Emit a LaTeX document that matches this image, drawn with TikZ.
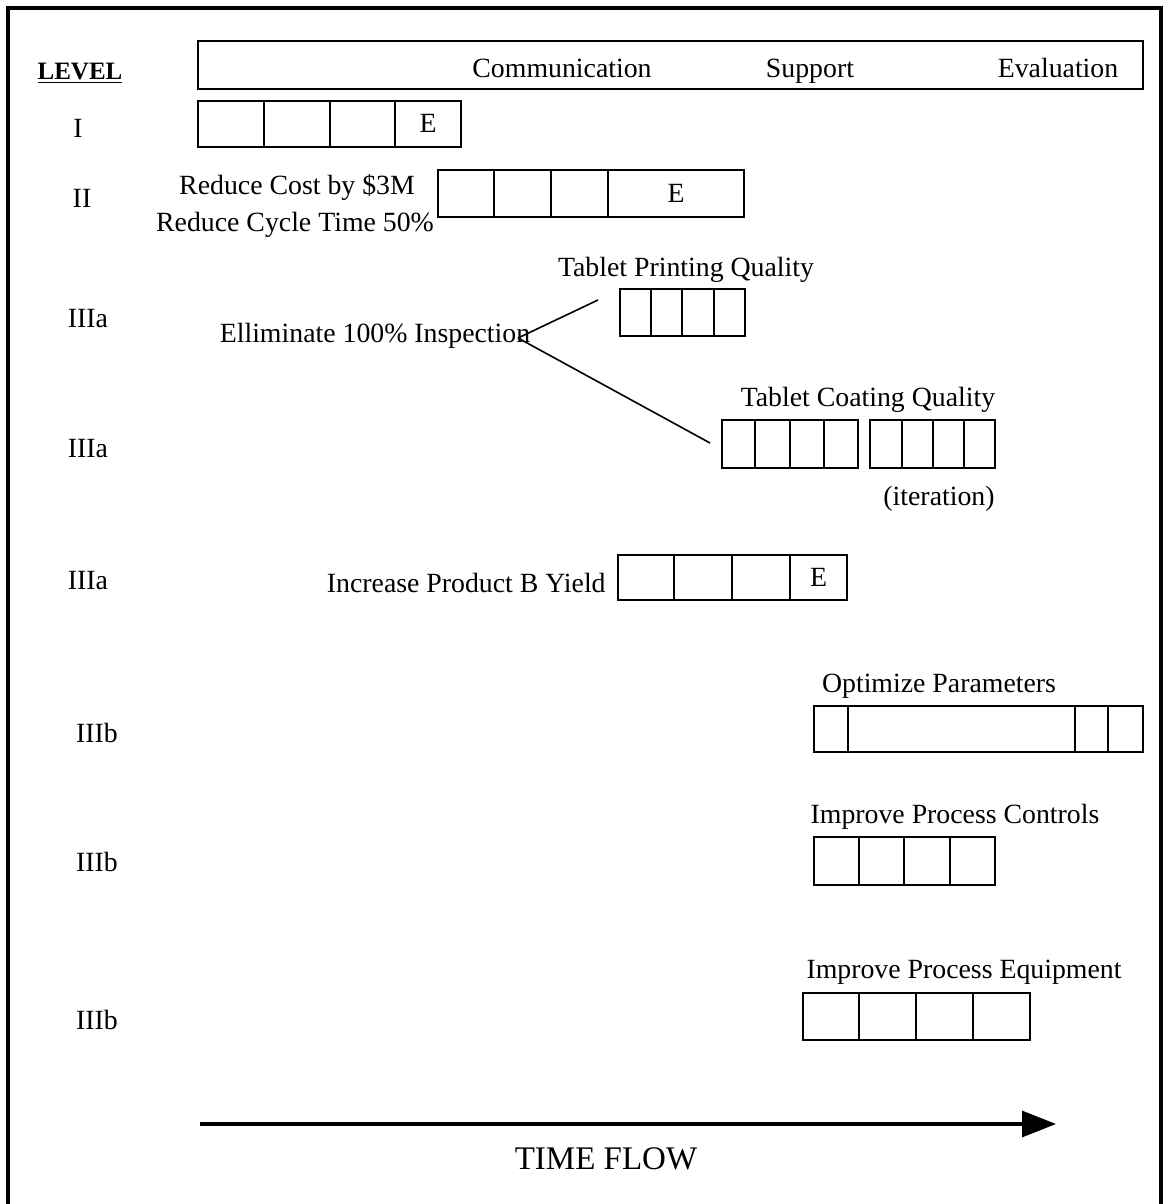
\documentclass[tikz,border=0pt]{standalone}
\usepackage{fontspec}
\setmainfont{Liberation Serif}
\usetikzlibrary{arrows.meta}
\tikzset{
  txt/.style={inner sep=0pt, text height=0.95em, text depth=0.1em, font=\fontsize{13.9}{16}\selectfont},
  lvl/.style={txt},
  cell/.style={draw, line width=0.9pt, inner sep=0pt, text height=0.95em, text depth=0.1em, font=\fontsize{13.9}{16}\selectfont},
  link/.style={line width=0.8pt},
}
% cells: prefix, top y, bottom y, list of a/b/label
\newcommand\cellrow[4]{%
  \foreach \a/\b/\lab [count=\i] in {#4}{%
    \node[cell, minimum width={(\b-\a)*0.5pt}, minimum height={(#3-#2)*0.5pt}]
      (#1-\i) at ({(\a+\b)/2},{(#2+#3)/2}) {\lab};
  }%
}
\begin{document}
\begin{tikzpicture}[x=0.5pt,y=-0.5pt]
\useasboundingbox (0,0) rectangle (1165,1204);
% outer frame
\draw[line width=1.6pt] (8,1215) -- (8,8) -- (1161,8) -- (1161,1215);
% header
\node[cell, minimum width={(1143-198)*0.5pt}, minimum height={(89-41)*0.5pt}] (head) at ({(198+1143)/2},65) {};
\node[txt] (comm) at (562,69) {Communication};
\node[txt] (supp) at (810,69) {Support};
\node[txt] (eval) at (1058,69) {Evaluation};
\node[txt, font=\fontsize{12.5}{15}\selectfont\bfseries] (level) at (80,71) {\underline{LEVEL}};
% level labels
\node[lvl] (l1) at (78,129) {I};
\node[lvl] (l2) at (82,199) {II};
\node[lvl] (l3) at (88,319) {IIIa};
\node[lvl] (l4) at (88,449) {IIIa};
\node[lvl] (l5) at (88,581) {IIIa};
\node[lvl] (l6) at (97,734) {IIIb};
\node[lvl] (l7) at (97,863) {IIIb};
\node[lvl] (l8) at (97,1021) {IIIb};
% row I
\cellrow{ra}{101}{147}{198/264/,264/330/,330/395/,395/461/E}
% row II
\node[txt] (rc1) at (297,186) {Reduce Cost by \$3M};
\node[txt] (rc2) at (295,223) {Reduce Cycle Time 50\%};
\cellrow{rb}{170}{217}{438/494/,494/551/,551/608/,608/744/E}
% row IIIa 1
\node[txt] (tpq) at (686,268) {Tablet Printing Quality};
\cellrow{rc}{289}{336}{620/651/,651/682/,682/714/,714/745/}
\node[txt] (elim) at (375,334) {Elliminate 100\% Inspection};
\coordinate (j) at (518,338);
\coordinate (e1) at (598,300);
\coordinate (e2) at (710,443);
\draw[link] (j) -- (e1);
\draw[link] (j) -- (e2);
% row IIIa 2
\node[txt] (tcq) at (868,398) {Tablet Coating Quality};
\cellrow{rd}{420}{468}{722/755/,755/790/,790/824/,824/858/}
\cellrow{re}{420}{468}{870/902/,902/933/,933/964/,964/995/}
\node[txt] (iter) at (939,497) {(iteration)};
% row IIIa 3
\node[txt, anchor=east] (ipb) at (606,584) {Increase Product B Yield};
\cellrow{rf}{555}{600}{618/674/,674/732/,732/790/,790/847/E}
% row IIIb 1
\node[txt] (opt) at (939,684) {Optimize Parameters};
\cellrow{rg}{706}{752}{814/848/,848/1075/,1075/1108/,1108/1143/}
% row IIIb 2
\node[txt] (ipc) at (955,815) {Improve Process Controls};
\cellrow{rh}{837}{885}{814/859/,859/904/,904/950/,950/995/}
% row IIIb 3
\node[txt] (ipe) at (964,970) {Improve Process Equipment};
\cellrow{ri}{993}{1040}{803/859/,859/916/,916/973/,973/1030/}
% time arrow
\coordinate (ta) at (200,1124);
\coordinate (tb) at (1056,1124);
\draw[line width=1.6pt, -{Triangle[length=17pt, width=13pt]}] (ta) -- (tb);
\node[txt, font=\fontsize{16.5}{19}\selectfont] (tf) at (606,1161) {TIME FLOW};
\end{tikzpicture}
\end{document}
